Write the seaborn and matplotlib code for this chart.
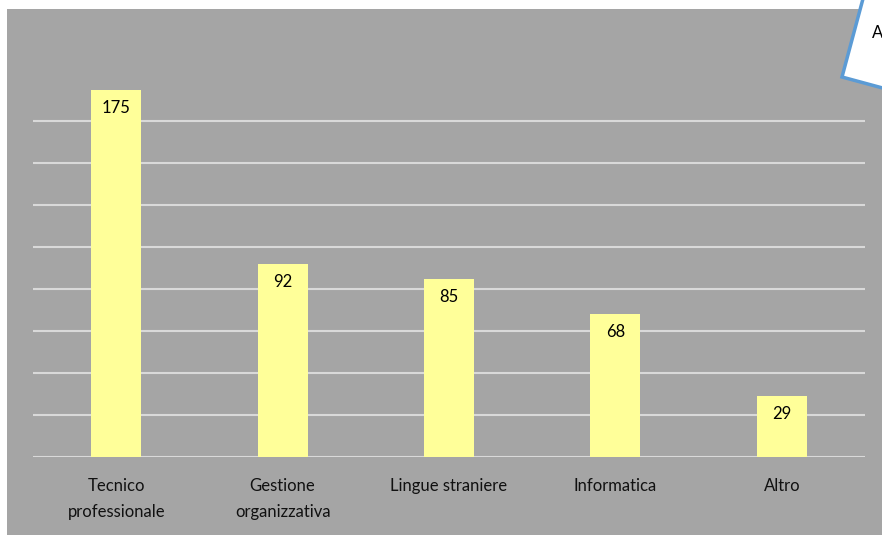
import matplotlib
matplotlib.use("Agg")
import matplotlib.pyplot as plt
import matplotlib.patches as mpatches
import seaborn as sns
import pandas as pd

categories = ["Tecnico\nprofessionale", "Gestione\norganizzativa", "Lingue straniere", "Informatica", "Altro"]
values = [175, 92, 85, 68, 29]
grid_ticks = [0, 20, 40, 60, 80, 100, 120, 140, 160]

sns.set_theme(style="white")
plt.rcParams['font.family'] = ['Lato', 'DejaVu Sans']

W, H = 882, 535
fig = plt.figure(figsize=(W / 100, H / 100), dpi=100)
fig.patch.set_facecolor("white")

# gray chart area
bg = mpatches.Rectangle((7 / W, 0), 1 - 7 / W, 1 - 9 / H, transform=fig.transFigure,
                        facecolor="#a5a5a5", edgecolor="none", zorder=-5)
fig.patches.append(bg)

ax = fig.add_axes([33 / W, (H - 457) / H, 832 / W, 377.5 / H])
ax.set_facecolor("none")
ax.set_zorder(1)

df = pd.DataFrame({"cat": categories, "val": values})
sns.barplot(data=df, x="cat", y="val", color="#ffff99", saturation=1, width=0.3,
            linewidth=0, ax=ax, zorder=3)

ax.set_xlim(-0.5, 4.5)
ax.set_ylim(0, 180)
ax.set_yticks(grid_ticks)
ax.set_yticklabels([])
ax.yaxis.grid(True, color="#d9d9d9", linewidth=1.5, zorder=1)
ax.set_axisbelow(True)
for s in ax.spines.values():
    s.set_visible(False)
ax.tick_params(axis="x", length=0, pad=15, labelsize=12, labelcolor="#111111")
ax.tick_params(axis="y", length=0)
for lbl in ax.get_xticklabels():
    lbl.set_linespacing(1.75)
ax.set_xlabel("")
ax.set_ylabel("")

for i, v in enumerate(values):
    ax.annotate(str(v), xy=(i, v), xytext=(0, -13), textcoords="offset points",
                ha="center", va="center", fontsize=12, color="black")

# callout shape in top right corner
pts = [(864, -5), (842, 77), (890, 90), (890, -5)]
poly = mpatches.Polygon([(x / W, 1 - y / H) for x, y in pts], closed=True,
                        transform=fig.transFigure, facecolor="white",
                        edgecolor="#5b9bd5", linewidth=2.5, zorder=5)
fig.patches.append(poly)
fig.text(872 / W, 1 - 33 / H, "A", fontsize=12, color="black", va="center", ha="left", zorder=6)

fig.savefig("out.png", dpi=100)
